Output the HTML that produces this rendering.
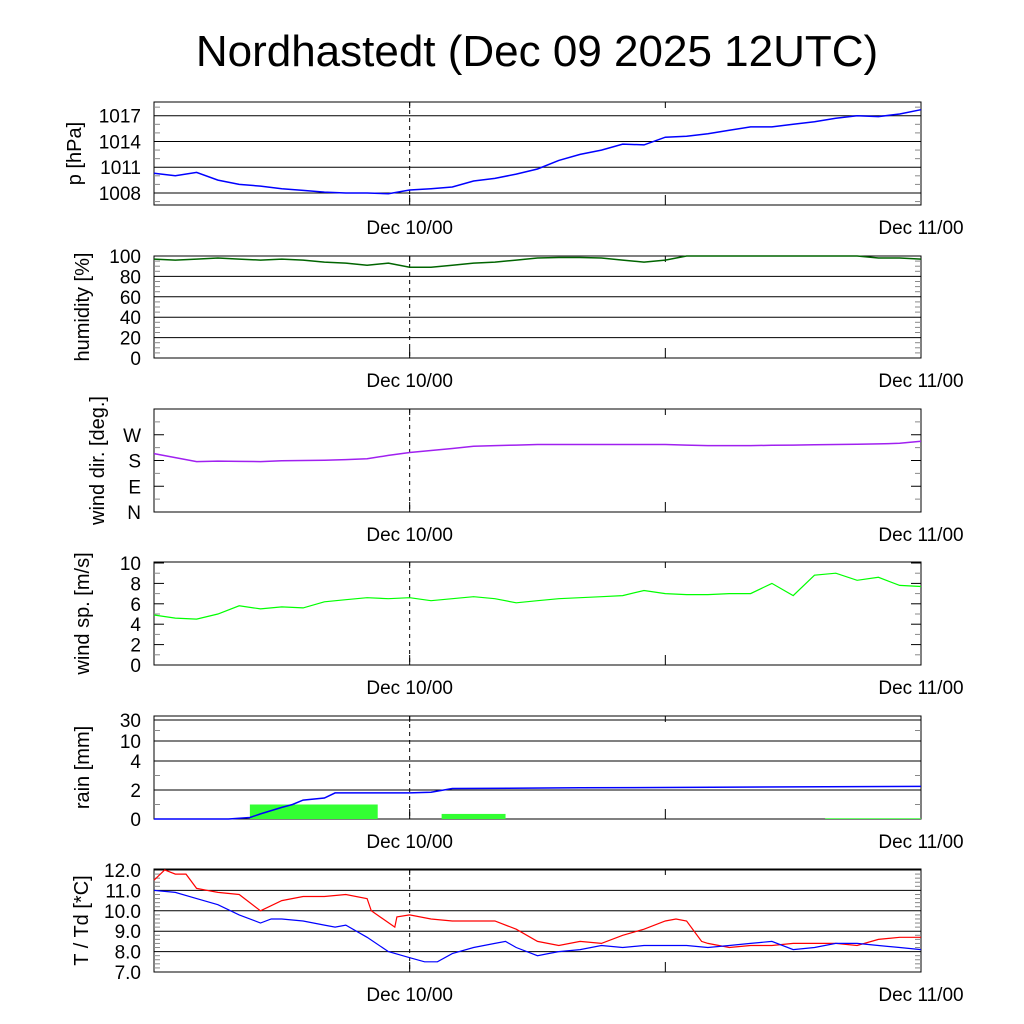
<!DOCTYPE html>
<html><head><meta charset="utf-8"><style>
body{margin:0;background:#fff}
svg{display:block}
text{font-family:"Liberation Sans",sans-serif;fill:#000}
</style></head><body>
<svg id="c" width="1024" height="1024" xmlns="http://www.w3.org/2000/svg">
<text x="537" y="66" font-size="44" text-anchor="middle">Nordhastedt (Dec 09 2025 12UTC)</text>
</svg>
<script>
const hours = [0,1,2,3,4,5,6,7,8,9,10,11,12,13,14,15,16,17,18,19,20,21,22,23,24,25,26,27,28,29,30,31,32,33,34,35,36];
const pressure = [1010.3,1010.0,1010.4,1009.5,1009.0,1008.8,1008.5,1008.3,1008.1,1008.0,1008.0,1007.9,1008.35,1008.5,1008.7,1009.4,1009.7,1010.2,1010.8,1011.8,1012.5,1013.0,1013.7,1013.6,1014.5,1014.6,1014.9,1015.3,1015.7,1015.7,1016.0,1016.3,1016.7,1017.0,1016.9,1017.2,1017.7];
const humidity = [97,96,97,98,97,96,97,96,94,93,91,93,89,89,91,93,94,96,98,98.5,98.5,98,96,94,96,100,100,100,100,100,100,100,100,100,98,98,97];
const windDir = [204,190,176,178,177,176,179,180,181,183,186,198,208,215,222,230,232,234,236,236,236,236,236,236,236,234,232,232,232,233,234,235,236,237,238,240,247];
const windSpeed = [4.9,4.6,4.5,5.0,5.8,5.5,5.7,5.6,6.2,6.4,6.6,6.5,6.6,6.3,6.5,6.7,6.5,6.1,6.3,6.5,6.6,6.7,6.8,7.3,7.0,6.9,6.9,7.0,7.0,8.0,6.8,8.8,9.0,8.3,8.6,7.8,7.7];
const rainHours = [0,3.5,4,4.5,5,6,6.5,7,8,8.5,12,13,14,20,36];
const rainCum = [0,0,0.05,0.1,0.35,0.8,1.0,1.3,1.45,1.8,1.8,1.85,2.1,2.15,2.25];
const rainBarStart = [4.5,13.5,31.5];
const rainBarEnd = [10.5,16.5,36];
const rainBarValue = [1.0,0.35,0.05];
const tempHours = [0,0.5,1,1.5,2,3,4,5,6,7,8,9,10,10.2,11.3,11.4,12,13,14,15,16,17,18,19,20,21,22,23,24,24.5,25,25.7,26,27,28,29,30,31,32,33,34,35,36];
const temp = [11.5,12.0,11.8,11.8,11.1,10.9,10.8,10.0,10.5,10.7,10.7,10.8,10.6,10.0,9.2,9.7,9.8,9.6,9.5,9.5,9.5,9.1,8.5,8.3,8.5,8.4,8.8,9.1,9.5,9.6,9.5,8.5,8.4,8.2,8.3,8.3,8.4,8.4,8.4,8.3,8.6,8.7,8.7];
const dewHours = [0,1,2,3,4,5,5.5,6,7,8,8.5,9,10,11,12,12.7,13.3,14,15,16,16.5,17,18,18.5,19,20,21,22,23,24,25,26,27,28,29,30,31,32,33,34,35,36];
const dew = [11.0,10.9,10.6,10.3,9.8,9.4,9.6,9.6,9.5,9.3,9.2,9.3,8.7,8.0,7.7,7.5,7.5,7.9,8.2,8.4,8.5,8.2,7.8,7.9,8.0,8.1,8.3,8.2,8.3,8.3,8.3,8.2,8.3,8.4,8.5,8.1,8.2,8.4,8.4,8.3,8.2,8.1];

const svg=document.getElementById('c');const NS='http://www.w3.org/2000/svg';
const X0=154,X1=921,H=36;
const xs=h=>X0+(X1-X0)*h/H;
function mk(tag,attrs,parent){const e=document.createElementNS(NS,tag);for(const k in attrs)e.setAttribute(k,attrs[k]);(parent||svg).appendChild(e);return e;}

function panel(name,top,bot,yfn,ticks,labels,grid,minor,ylabel,tx){
  const g=mk('g',{});
  
  
  mk('rect',{x:X0,y:top,width:X1-X0,height:bot-top,fill:'none',stroke:'#000','stroke-width':1},g);
  minor.forEach(v=>{const y=yfn(v);mk('line',{x1:X0,x2:X0+6,y1:y,y2:y,stroke:'#888'},g);mk('line',{x1:X1-6,x2:X1,y1:y,y2:y,stroke:'#888'},g);});
  ticks.forEach((v,i)=>{const y=yfn(v);
    if(grid)mk('line',{x1:X0,x2:X1,y1:y,y2:y,stroke:'#000','stroke-width':1},g);
    else{mk('line',{x1:X0,x2:X0+10,y1:y,y2:y,stroke:'#000'},g);mk('line',{x1:X1-10,x2:X1,y1:y,y2:y,stroke:'#000'},g);}
    const t=mk('text',{x:141,y:y+7,'font-size':19,'text-anchor':'end'},g);t.textContent=labels[i];
    
    
  });
  mk('line',{x1:xs(12),x2:xs(12),y1:top,y2:bot,stroke:'#000','stroke-dasharray':'4,4'},g);
  [12,24].forEach(h=>{mk('line',{x1:xs(h),x2:xs(h),y1:bot-10,y2:bot,stroke:'#000'},g);mk('line',{x1:xs(h),x2:xs(h),y1:top,y2:top+6,stroke:'#000'},g);});
  [[12,'Dec 10/00'],[36,'Dec 11/00']].forEach(([h,s])=>{const t=mk('text',{x:xs(h),y:bot+29,'font-size':19,'text-anchor':'middle'},g);t.textContent=s;
    
    });
  const yl=mk('text',{x:0,y:0,'font-size':20,'text-anchor':'middle',transform:`translate(${tx},${(top+bot)/2}) rotate(-90)`},g);yl.textContent=ylabel;
  
  
  return g;
}
function line(g,hs,vs,yfn,color,name,w){
  const d=hs.map((h,i)=>(i?'L':'M')+xs(h).toFixed(1)+','+yfn(vs[i]).toFixed(1)).join('');
  const p=mk('path',{d:d,fill:'none',stroke:color,'stroke-width':w||1.5},g);
  
  
}
const lin=(top,bot,v0,v1)=>v=>bot-(v-v0)/(v1-v0)*(bot-top);

let yP=lin(102,205,1006.6,1018.6);
let g=panel('pressure',102,205,yP,[1008,1011,1014,1017],['1008','1011','1014','1017'],true,[1007,1009,1010,1012,1013,1015,1016,1018],'p [hPa]',81);
line(g,hours,pressure,yP,'#0000ff','pressure-line');
let yH=lin(256,358,0,100);
g=panel('humidity',256,358,yH,[0,20,40,60,80,100],['0','20','40','60','80','100'],true,[5,10,15,25,30,35,45,50,55,65,70,75,85,90,95],'humidity [%]',89);
line(g,hours,humidity,yH,'#006400','humidity-line');
let yD=lin(409,512,0,360);
g=panel('wind-direction',409,512,yD,[0,90,180,270],['N','E','S','W'],false,[45,135,225,315],'wind dir. [deg.]',104);
line(g,hours,windDir,yD,'#a020f0','wind-direction-line');
let yS=lin(563,665,0,10);
g=panel('wind-speed',562,665,yS,[0,2,4,6,8,10],['0','2','4','6','8','10'],false,[1,3,5,7,9],'wind sp. [m/s]',89);
line(g,hours,windSpeed,yS,'#00ff00','wind-speed-line',1.2);
const rv=[0,2,4,10,30,40],ry=[819,790,761,741,720,716];
const yR=v=>{for(let i=0;i<rv.length-1;i++){if(v<=rv[i+1]){return ry[i]+(v-rv[i])/(rv[i+1]-rv[i])*(ry[i+1]-ry[i]);}}return 716;};
g=panel('rain',716,819,yR,[0,2,4,10,30],['0','2','4','10','30'],true,[1,3,20],'rain [mm]',89);
rainBarValue.forEach((v,i)=>{const r=mk('rect',{x:xs(rainBarStart[i]),y:yR(v),width:xs(rainBarEnd[i])-xs(rainBarStart[i]),height:819-yR(v),fill:'#33ff33'},g);
  
  });
line(g,rainHours,rainCum,yR,'#0000ff','cumulative-rain-line');
let yT=lin(870,972,7,12);
g=panel('temperature',869,972,yT,[7,8,9,10,11,12],['7.0','8.0','9.0','10.0','11.0','12.0'],true,[7.2,7.4,7.6,7.8,8.2,8.4,8.6,8.8,9.2,9.4,9.6,9.8,10.2,10.4,10.6,10.8,11.2,11.4,11.6,11.8],'T / Td [*C]',88);
line(g,tempHours,temp,yT,'#ff0000','temperature-line',1.2);
line(g,dewHours,dew,yT,'#0000ff','dewpoint-line',1.2);
</script>
</body></html>
